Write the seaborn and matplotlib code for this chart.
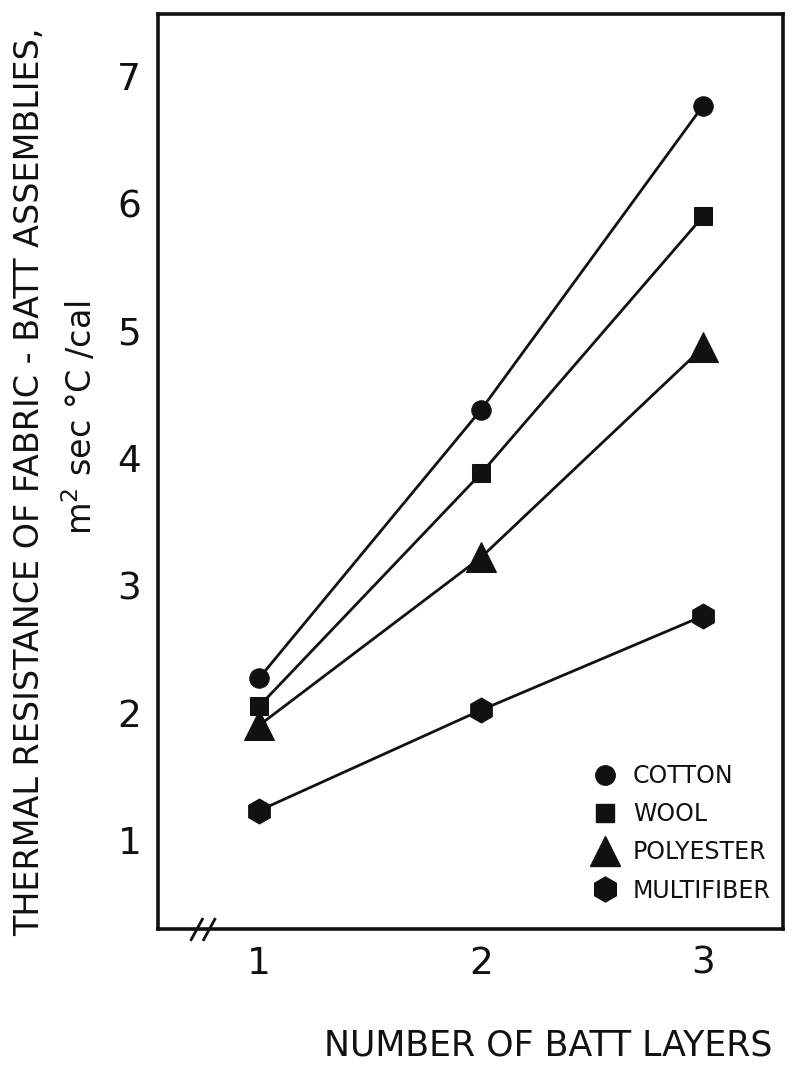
import numpy as np
import pandas as pd
import seaborn as sns
import matplotlib.pyplot as plt
from matplotlib.lines import Line2D

# Thermal resistance of fabric-batt assemblies vs. number of batt layers
layers = [1, 2, 3]
cotton = [2.27, 4.38, 6.77]
wool = [2.05, 3.88, 5.90]
polyester = [1.90, 3.22, 4.87]
multifiber = [1.23, 2.02, 2.76]
fiber_names = ["COTTON", "WOOL", "POLYESTER", "MULTIFIBER"]
x_ticks = [1, 2, 3]
y_ticks = [1, 2, 3, 4, 5, 6, 7]

df = pd.DataFrame({
    "layers": layers * 4,
    "resistance": cotton + wool + polyester + multifiber,
    "fiber": np.repeat(fiber_names, len(layers)),
})

sns.set_theme(style="white")
plt.rcParams["font.family"] = ["DejaVu Sans"]

ink = "#111111"
marker_style = {
    "COTTON": ("o", 14),
    "WOOL": ("s", 13),
    "POLYESTER": ("^", 22),
    "MULTIFIBER": ("h", 18),
}

fig = plt.figure(figsize=(8.1, 10.9), dpi=100)
ax = fig.add_axes([158 / 810, 1 - 929 / 1090, 625 / 810, 915 / 1090])

for name in fiber_names:
    m, ms = marker_style[name]
    sub = df[df["fiber"] == name]
    sns.lineplot(data=sub, x="layers", y="resistance", ax=ax, color=ink,
                 linewidth=2.0, marker=m, markersize=ms,
                 markeredgecolor=ink, markerfacecolor=ink, legend=False)

ax.set_xlim(0.545, 3.36)
ax.set_ylim(0.30, 7.49)
ax.set_xticks(x_ticks)
ax.set_yticks(y_ticks)
ax.set_xticklabels([str(v) for v in x_ticks])
ax.set_yticklabels([str(v) for v in y_ticks])
ax.tick_params(axis="both", direction="in", width=2, color=ink,
               labelsize=27, labelcolor=ink, pad=12)
ax.tick_params(axis="y", length=26)
ax.tick_params(axis="x", length=25)
for sp in ax.spines.values():
    sp.set_visible(True)
    sp.set_color(ink)
    sp.set_linewidth(2.6)
ax.set_xlabel("")
ax.set_ylabel("")

# axis break mark on the x axis
for dx in (0.0, 0.02):
    ax.plot([0.052 + dx, 0.072 + dx], [-0.013, 0.012], transform=ax.transAxes,
            color=ink, lw=2, clip_on=False, solid_capstyle="butt")

# labels
fig.text(548 / 810, 1 - 1045 / 1090, "NUMBER OF BATT LAYERS", ha="center",
         va="center", fontsize=25, color=ink)
fig.text(30 / 810, 1 - 482 / 1090, "THERMAL RESISTANCE OF FABRIC - BATT ASSEMBLIES,",
         rotation=90, ha="center", va="center", fontsize=24, color=ink)
fig.text(80 / 810, 1 - 418 / 1090, r"m$^{2}$ sec $\degree$C /cal", rotation=90,
         ha="center", va="center", fontsize=24, color=ink)

handles = [Line2D([], [], linestyle="none", marker=marker_style[n][0],
                  markersize=marker_style[n][1], color=ink)
           for n in fiber_names]
ax.legend(handles, fiber_names, loc="upper left",
          bbox_to_anchor=(587 / 810, 1 - 764 / 1090),
          bbox_transform=fig.transFigure, frameon=False, fontsize=17,
          handlelength=1.5, handletextpad=0.45, labelspacing=0.6,
          borderaxespad=0.0, borderpad=0.0, labelcolor=ink)

fig.savefig("out.png", dpi=100, facecolor="white")
